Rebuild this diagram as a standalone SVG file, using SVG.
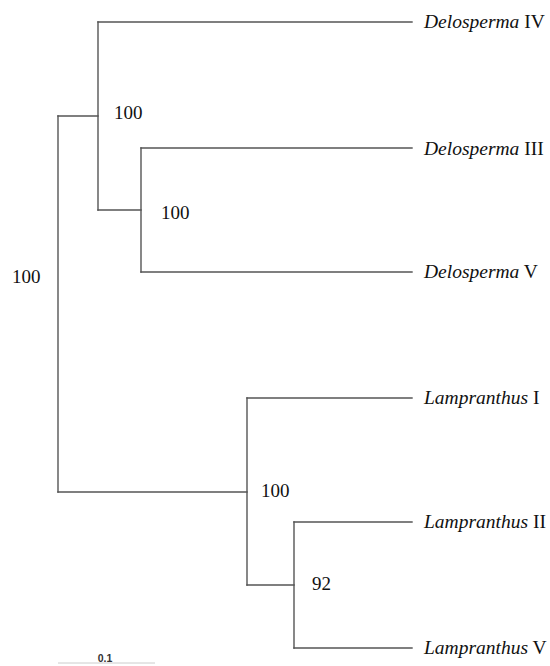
<svg xmlns="http://www.w3.org/2000/svg" width="550" height="666" viewBox="0 0 550 666">
<style>
.br{fill:none;stroke:#555;stroke-width:1.4;stroke-linecap:square}
.tip{font-size:19.5px;fill:#111}
.tip .g{font-style:italic}
.bs{font-size:19px;fill:#111}
.sc{font-size:10.5px;font-weight:bold;fill:#333}
</style>
<rect width="550" height="666" fill="#fff"/>
<g id="connectors">
<path class="br" d="M58,116 V492"/>
<path class="br" d="M58,116 H98"/>
<path class="br" d="M58,492 H247"/>
<path class="br" d="M98,22 V210"/>
<path class="br" d="M98,22 H412"/>
<path class="br" d="M98,210 H141"/>
<path class="br" d="M141,148 V272"/>
<path class="br" d="M141,148 H412"/>
<path class="br" d="M141,272 H412"/>
<path class="br" d="M247,398 V585"/>
<path class="br" d="M247,398 H412"/>
<path class="br" d="M247,585 H294"/>
<path class="br" d="M294,522 V648"/>
<path class="br" d="M294,522 H412"/>
<path class="br" d="M294,648 H412"/>
</g>
<g font-family="'Liberation Serif', 'DejaVu Serif', serif">
<g id="tip-delosperma-iv"><text class="tip" x="424" y="28"><tspan class="g">Delosperma</tspan> IV</text></g>
<g id="tip-delosperma-iii"><text class="tip" x="424" y="155"><tspan class="g">Delosperma</tspan> III</text></g>
<g id="tip-delosperma-v"><text class="tip" x="424" y="278"><tspan class="g">Delosperma</tspan> V</text></g>
<g id="tip-lampranthus-i"><text class="tip" x="424" y="404"><tspan class="g">Lampranthus</tspan> I</text></g>
<g id="tip-lampranthus-ii"><text class="tip" x="424" y="528"><tspan class="g">Lampranthus</tspan> II</text></g>
<g id="tip-lampranthus-v"><text class="tip" x="424" y="654"><tspan class="g">Lampranthus</tspan> V</text></g>
<g id="bootstrap-root"><text class="bs" x="12" y="283">100</text></g>
<g id="bootstrap-delosperma"><text class="bs" x="114" y="119">100</text></g>
<g id="bootstrap-delosperma-iii-v"><text class="bs" x="161" y="219">100</text></g>
<g id="bootstrap-lampranthus"><text class="bs" x="261" y="497">100</text></g>
<g id="bootstrap-lampranthus-ii-v"><text class="bs" x="312" y="590">92</text></g>
</g>
<g id="scale-bar">
<line x1="58" y1="663" x2="155" y2="663" stroke="#ccc" stroke-width="1"/>
<text class="sc" font-family="'Liberation Sans', Arial, sans-serif" x="105" y="662" text-anchor="middle">0.1</text>
</g>
</svg>
